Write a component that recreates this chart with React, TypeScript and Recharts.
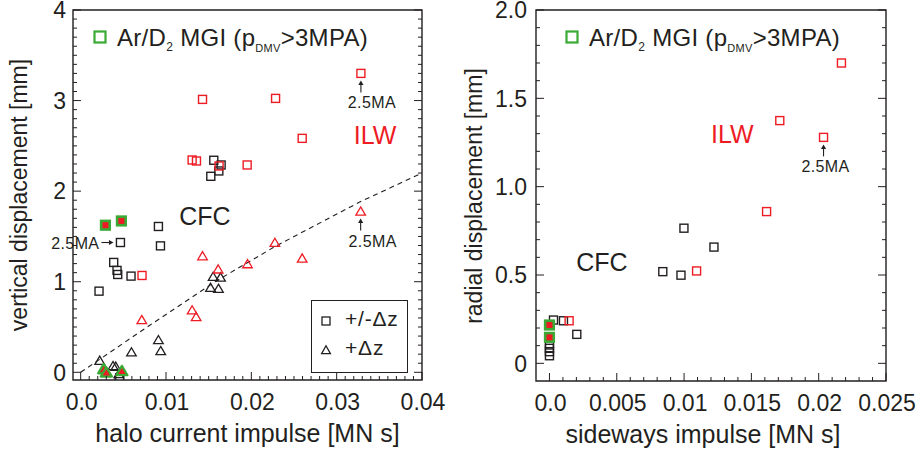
import React from 'react'
import { ScatterChart, Scatter, XAxis, YAxis, ReferenceDot, ReferenceArea, Legend } from 'recharts'

const INK = '#231f20'
const RED = '#ed1c24'
const GREEN = '#3aaa35'
const FONT = '"Liberation Sans", Arial, Helvetica, sans-serif'

// ---------- left panel: vertical displacement vs halo current impulse ----------
const hciTicks = [0, 0.01, 0.02, 0.03, 0.04]
const hciTickLabels = ['0.0', '0.01', '0.02', '0.03', '0.04']
const vdTicks = [0, 1, 2, 3, 4]
const vdTickLabels = ['0', '1', '2', '3', '4']

// +/-dz shots, carbon wall
const cfcSquaresL = [
  { x: 0.0156, y: 2.341 }, { x: 0.01646, y: 2.289 }, { x: 0.01619, y: 2.223 }, { x: 0.01525, y: 2.164 },
  { x: 0.00466, y: 1.433 }, { x: 0.00911, y: 1.61 }, { x: 0.00935, y: 1.396 }, { x: 0.00387, y: 1.213 },
  { x: 0.00426, y: 1.125 }, { x: 0.00434, y: 1.08 }, { x: 0.0059, y: 1.062 }, { x: 0.00215, y: 0.896 },
  { x: 0.00458, y: -0.06 },
]
// +/-dz shots, ITER-like wall
const ilwSquaresL = [
  { x: 0.01428, y: 3.013 }, { x: 0.02284, y: 3.024 }, { x: 0.03284, y: 3.3 }, { x: 0.02596, y: 2.583 },
  { x: 0.01306, y: 2.344 }, { x: 0.01357, y: 2.333 }, { x: 0.01951, y: 2.289 }, { x: 0.01622, y: 2.278 },
  { x: 0.00719, y: 1.069 },
]
const cfcTrianglesL = [
  { x: 0.01552, y: 1.054 }, { x: 0.01639, y: 1.047 }, { x: 0.01521, y: 0.933 }, { x: 0.01615, y: 0.922 },
  { x: 0.00911, y: 0.356 }, { x: 0.00938, y: 0.235 }, { x: 0.00595, y: 0.22 }, { x: 0.00223, y: 0.128 },
  { x: 0.00379, y: 0.069 }, { x: 0.00411, y: 0.062 }, { x: 0.00446, y: -0.02 },
]
const ilwTrianglesL = [
  { x: 0.03281, y: 1.775 }, { x: 0.01428, y: 1.282 }, { x: 0.02276, y: 1.429 }, { x: 0.01955, y: 1.194 },
  { x: 0.02596, y: 1.257 }, { x: 0.01611, y: 1.136 }, { x: 0.01306, y: 0.684 }, { x: 0.01353, y: 0.61 },
  { x: 0.00716, y: 0.577 },
]
// Ar/D2 massive gas injection
const mgiSquaresL = [{ x: 0.0029, y: 1.624 }, { x: 0.00477, y: 1.671 }]
const mgiTrianglesL = [{ x: 0.0027, y: 0.033 }, { x: 0.00301, y: -0.004 }, { x: 0.00483, y: 0.012 }]
// dashed trend
const trendL = [
  { x: 0, y: 0 }, { x: 0.0081, y: 0.52 }, { x: 0.0161, y: 1.02 },
  { x: 0.0228, y: 1.39 }, { x: 0.0327, y: 1.88 }, { x: 0.04, y: 2.2 },
]
const annotL = [
  { x: 0.03284, y: 3.3 },
  { x: 0.03281, y: 1.775 },
  { x: 0.00466, y: 1.433 },
]

// ---------- right panel: radial displacement vs sideways impulse ----------
const swTicks = [0, 0.005, 0.01, 0.015, 0.02, 0.025]
const swTickLabels = ['0.0', '0.005', '0.01', '0.015', '0.02', '0.025']
const rdTicks = [0, 0.5, 1, 1.5, 2]
const rdTickLabels = ['0', '0.5', '1.0', '1.5', '2.0']

const cfcSquaresR = [
  { x: 0.00999, y: 0.765 }, { x: 0.01222, y: 0.658 }, { x: 0.00842, y: 0.519 }, { x: 0.00977, y: 0.499 },
  { x: 0.0003, y: 0.245 }, { x: 0.00104, y: 0.241 }, { x: 0.00203, y: 0.164 },
  { x: 0, y: 0.104 }, { x: 0, y: 0.085 }, { x: 0, y: 0.066 }, { x: 0, y: 0.043 },
]
const ilwSquaresR = [
  { x: 0.02169, y: 1.7 }, { x: 0.01711, y: 1.374 }, { x: 0.02036, y: 1.279 },
  { x: 0.01613, y: 0.859 }, { x: 0.01093, y: 0.523 }, { x: 0.00146, y: 0.241 },
]
const mgiSquaresR = [{ x: 0, y: 0.217 }, { x: 0, y: 0.147 }]
const annotR = [{ x: 0.02036, y: 1.279 }]

const shotLegend = [
  { label: '+/-\u0394z', kind: 'square' },
  { label: '+\u0394z', kind: 'triangle' },
]

// minor + major tick positions
const hciAll = Array.from({ length: 41 }, (_, i) => i / 1000)
const vdAll = Array.from({ length: 41 }, (_, i) => i / 10)
const swAll = Array.from({ length: 26 }, (_, i) => i / 1000)
const rdAll = Array.from({ length: 21 }, (_, i) => i / 10)

const majorIndex = (v: number, majors: number[]) => majors.findIndex(m => Math.abs(m - v) < 1e-9)

// inward ticks, labelled where major
const bottomTick = (majors: number[], labels: string[]) => (p: any) => {
  const k = majorIndex(p.payload.value, majors)
  return (
    <g>
      <line x1={p.x} y1={p.y} x2={p.x} y2={p.y - (k >= 0 ? 8 : 4)} stroke={INK} strokeWidth={1} />
      {k >= 0 && <text x={p.x + 1} y={p.y + 29.5} textAnchor="middle" fontSize={23} fill={INK}>{labels[k]}</text>}
    </g>
  )
}
const leftTick = (majors: number[], labels: string[], gap: number) => (p: any) => {
  const k = majorIndex(p.payload.value, majors)
  return (
    <g>
      <line x1={p.x} y1={p.y} x2={p.x + (k >= 0 ? 8 : 4)} y2={p.y} stroke={INK} strokeWidth={1} />
      {k >= 0 && <text x={p.x - gap} y={p.y + 8.2} textAnchor="end" fontSize={23} fill={INK}>{labels[k]}</text>}
    </g>
  )
}
const topTick = (majors: number[]) => (p: any) => (
  <line x1={p.x} y1={p.y} x2={p.x} y2={p.y + (majorIndex(p.payload.value, majors) >= 0 ? 8 : 4)} stroke={INK} strokeWidth={1} />
)
const rightTick = (majors: number[]) => (p: any) => (
  <line x1={p.x} y1={p.y} x2={p.x - (majorIndex(p.payload.value, majors) >= 0 ? 8 : 4)} y2={p.y} stroke={INK} strokeWidth={1} />
)

// marker shapes
const openSquare = (color: string) => (p: any) => (
  <rect x={p.cx - 4} y={p.cy - 4} width={8} height={8} fill="none" stroke={color} strokeWidth={1.4} />
)
const openTriangle = (color: string) => (p: any) => (
  <path d={`M${p.cx},${p.cy - 4.6} L${p.cx + 4.8},${p.cy + 3.6} L${p.cx - 4.8},${p.cy + 3.6} Z`}
    fill="none" stroke={color} strokeWidth={1.3} />
)
const mgiSquare = (p: any) => (
  <rect x={p.cx - 4.3} y={p.cy - 4.3} width={8.6} height={8.6} fill={RED} stroke={GREEN} strokeWidth={2.6} />
)
const mgiTriangle = (p: any) => (
  <path d={`M${p.cx},${p.cy - 5.4} L${p.cx + 5.6},${p.cy + 4} L${p.cx - 5.6},${p.cy + 4} Z`}
    fill={RED} stroke={GREEN} strokeWidth={2.2} strokeLinejoin="round" />
)
const noMarker = () => <g />

// "2.5MA" arrows
const arrowUp = (textDx: number) => (p: any) => (
  <g>
    <line x1={p.cx} y1={p.cy + 19} x2={p.cx} y2={p.cy + 10} stroke={INK} strokeWidth={1.1} />
    <path d={`M${p.cx},${p.cy + 7} L${p.cx + 2.6},${p.cy + 11.5} L${p.cx - 2.6},${p.cy + 11.5} Z`} fill={INK} />
    <text x={p.cx + textDx} y={p.cy + 35} textAnchor="middle" fontSize={16} letterSpacing={0.4} fill={INK}>2.5MA</text>
  </g>
)
const arrowRight = (p: any) => (
  <g>
    <line x1={p.cx - 19} y1={p.cy} x2={p.cx - 10} y2={p.cy} stroke={INK} strokeWidth={1.1} />
    <path d={`M${p.cx - 7},${p.cy} L${p.cx - 11.5},${p.cy - 2.6} L${p.cx - 11.5},${p.cy + 2.6} Z`} fill={INK} />
    <text x={p.cx - 21} y={p.cy + 6} textAnchor="end" fontSize={16} letterSpacing={0.4} fill={INK}>2.5MA</text>
  </g>
)
const wallText = (text: string, color: string) => (p: any) => (
  <text x={p.cx} y={p.cy + 9} textAnchor="middle" fontSize={25} fill={color}>{text}</text>
)

const YTitle = ({ text, cx, cy }: { text: string; cx: number; cy: number }) => (
  <div style={{
    position: 'absolute', left: cx, top: cy, transform: 'translate(-50%, -50%) rotate(-90deg)',
    whiteSpace: 'nowrap', fontSize: 23, lineHeight: '23px', color: INK,
  }}>{text}</div>
)

const MgiLegend = ({ left }: { left: number }) => (
  <div style={{ position: 'absolute', left, top: 26, whiteSpace: 'nowrap', fontSize: 24, lineHeight: '24px', letterSpacing: 0.3, color: INK }}>
    <svg width={16} height={16} style={{ position: 'absolute', left: -2, top: 3 }}>
      <rect x={2.5} y={2.5} width={11} height={11} fill="none" stroke={GREEN} strokeWidth={2.2} />
    </svg>
    <span style={{ marginLeft: 23 }}>
      Ar/D<span style={{ fontSize: 12, verticalAlign: '-5px' }}>2</span>&nbsp;MGI (p
      <span style={{ fontSize: 11, verticalAlign: '-6px' }}>DMV</span>&gt;3MPA)
    </span>
  </div>
)

const LeftLegend = () => (
  <div style={{ position: 'absolute', left: 0, top: 0 }}>
    <YTitle text="vertical displacement [mm]" cx={19} cy={195} />
    <MgiLegend left={94} />
    <div style={{ position: 'absolute', left: 311, top: 300, width: 95, height: 71, border: `1.3px solid ${INK}`, color: INK }}>
      {shotLegend.map((item, i) => (
        <div key={item.label} style={{ position: 'absolute', left: 8, top: 7.4 + i * 28.5, height: 22, fontSize: 21, lineHeight: '22px', letterSpacing: 0.8, whiteSpace: 'nowrap' }}>
          <svg width={12} height={12} style={{ position: 'absolute', left: 0, top: 7 }}>
            {item.kind === 'square'
              ? <rect x={2} y={2} width={8} height={8} fill="none" stroke={INK} strokeWidth={1.3} />
              : <path d="M6,1.8 L10.4,9.6 L1.6,9.6 Z" fill="none" stroke={INK} strokeWidth={1.3} />}
          </svg>
          <span style={{ marginLeft: 25 }}>{item.label}</span>
        </div>
      ))}
    </div>
  </div>
)

const RightLegend = () => (
  <div style={{ position: 'absolute', left: 0, top: 0 }}>
    <YTitle text="radial displacement [mm]" cx={14} cy={195.5} />
    <MgiLegend left={106} />
  </div>
)

function LeftPanel() {
  const xd: [number, number] = [-0.0009, 0.04]
  const yd: [number, number] = [-0.085, 4]
  return (
    <ScatterChart width={460} height={453} margin={{ top: 9, right: 37, bottom: 3, left: 32 }}>
      <XAxis xAxisId="xmaj" dataKey="x" type="number" domain={xd} allowDataOverflow ticks={hciAll} interval={0}
        height={36} tick={bottomTick(hciTicks, hciTickLabels)} axisLine={false} tickLine={false} tickSize={0} tickMargin={0} />
      <XAxis xAxisId="xtitle" type="number" domain={xd} allowDataOverflow height={34} tick={false} axisLine={false} tickLine={false}
        label={{ value: 'halo current impulse [MN s]', position: 'center', fill: INK, fontSize: 25 }} />
      <XAxis xAxisId="xtop" orientation="top" type="number" domain={xd} allowDataOverflow ticks={hciAll} interval={0}
        height={1} tick={topTick(hciTicks)} axisLine={false} tickLine={false} tickSize={0} tickMargin={0} />

      <YAxis yAxisId="ymaj" dataKey="y" type="number" domain={yd} allowDataOverflow ticks={vdAll} interval={0}
        width={41} tick={leftTick(vdTicks, vdTickLabels, 7)} axisLine={false} tickLine={false} tickSize={0} tickMargin={0} />
      <YAxis yAxisId="yright" orientation="right" type="number" domain={yd} allowDataOverflow ticks={vdAll} interval={0}
        width={1} tick={rightTick(vdTicks)} axisLine={false} tickLine={false} tickSize={0} tickMargin={0} />

      <ReferenceArea xAxisId="xmaj" yAxisId="ymaj" x1={xd[0]} x2={xd[1]} y1={yd[0]} y2={yd[1]}
        fill="none" stroke={INK} strokeWidth={1.4} ifOverflow="visible" />

      <Scatter xAxisId="xmaj" yAxisId="ymaj" data={trendL} fill="none" shape={noMarker} isAnimationActive={false}
        line={{ stroke: INK, strokeWidth: 1.1, strokeDasharray: '5 4' }} />
      <Scatter xAxisId="xmaj" yAxisId="ymaj" data={cfcSquaresL} shape={openSquare(INK)} isAnimationActive={false} />
      <Scatter xAxisId="xmaj" yAxisId="ymaj" data={cfcTrianglesL} shape={openTriangle(INK)} isAnimationActive={false} />
      <Scatter xAxisId="xmaj" yAxisId="ymaj" data={ilwSquaresL} shape={openSquare(RED)} isAnimationActive={false} />
      <Scatter xAxisId="xmaj" yAxisId="ymaj" data={ilwTrianglesL} shape={openTriangle(RED)} isAnimationActive={false} />
      <Scatter xAxisId="xmaj" yAxisId="ymaj" data={mgiSquaresL} shape={mgiSquare} isAnimationActive={false} />
      <Scatter xAxisId="xmaj" yAxisId="ymaj" data={mgiTrianglesL} shape={mgiTriangle} isAnimationActive={false} />

      <ReferenceDot xAxisId="xmaj" yAxisId="ymaj" x={annotL[0].x} y={annotL[0].y} shape={arrowUp(11)} />
      <ReferenceDot xAxisId="xmaj" yAxisId="ymaj" x={annotL[1].x} y={annotL[1].y} shape={arrowUp(12)} />
      <ReferenceDot xAxisId="xmaj" yAxisId="ymaj" x={annotL[2].x} y={annotL[2].y} shape={arrowRight} />
      <ReferenceDot xAxisId="xmaj" yAxisId="ymaj" x={0.0345} y={2.62} shape={wallText('ILW', RED)} />
      <ReferenceDot xAxisId="xmaj" yAxisId="ymaj" x={0.01455} y={1.723} shape={wallText('CFC', INK)} />

      <Legend layout="vertical" align="center" verticalAlign="middle" content={() => <LeftLegend />}
        wrapperStyle={{ left: 0, top: 0, width: 0, height: 0 }} />
    </ScatterChart>
  )
}

function RightPanel() {
  const xd: [number, number] = [-0.001, 0.025]
  const yd: [number, number] = [-0.1, 2]
  return (
    <ScatterChart width={459} height={453} margin={{ top: 9, right: 32, bottom: 2, left: 26 }}>
      <XAxis xAxisId="xmaj" dataKey="x" type="number" domain={xd} allowDataOverflow ticks={swAll} interval={0}
        height={36} tick={bottomTick(swTicks, swTickLabels)} axisLine={false} tickLine={false} tickSize={0} tickMargin={0} />
      <XAxis xAxisId="xtitle" type="number" domain={xd} allowDataOverflow height={34} tick={false} axisLine={false} tickLine={false}
        label={{ value: 'sideways impulse [MN s]', position: 'center', fill: INK, fontSize: 25, dx: -8 }} />
      <XAxis xAxisId="xtop" orientation="top" type="number" domain={xd} allowDataOverflow ticks={swAll} interval={0}
        height={1} tick={topTick(swTicks)} axisLine={false} tickLine={false} tickSize={0} tickMargin={0} />

      <YAxis yAxisId="ymaj" dataKey="y" type="number" domain={yd} allowDataOverflow ticks={rdAll} interval={0}
        width={50} tick={leftTick(rdTicks, rdTickLabels, 9)} axisLine={false} tickLine={false} tickSize={0} tickMargin={0} />
      <YAxis yAxisId="yright" orientation="right" type="number" domain={yd} allowDataOverflow ticks={rdAll} interval={0}
        width={1} tick={rightTick(rdTicks)} axisLine={false} tickLine={false} tickSize={0} tickMargin={0} />

      <ReferenceArea xAxisId="xmaj" yAxisId="ymaj" x1={xd[0]} x2={xd[1]} y1={yd[0]} y2={yd[1]}
        fill="none" stroke={INK} strokeWidth={1.4} ifOverflow="visible" />

      <Scatter xAxisId="xmaj" yAxisId="ymaj" data={cfcSquaresR} shape={openSquare(INK)} isAnimationActive={false} />
      <Scatter xAxisId="xmaj" yAxisId="ymaj" data={ilwSquaresR} shape={openSquare(RED)} isAnimationActive={false} />
      <Scatter xAxisId="xmaj" yAxisId="ymaj" data={mgiSquaresR} shape={mgiSquare} isAnimationActive={false} />

      <ReferenceDot xAxisId="xmaj" yAxisId="ymaj" x={annotR[0].x} y={annotR[0].y} shape={arrowUp(2)} />
      <ReferenceDot xAxisId="xmaj" yAxisId="ymaj" x={0.01359} y={1.3} shape={wallText('ILW', RED)} />
      <ReferenceDot xAxisId="xmaj" yAxisId="ymaj" x={0.00389} y={0.571} shape={wallText('CFC', INK)} />

      <Legend layout="vertical" align="center" verticalAlign="middle" content={() => <RightLegend />}
        wrapperStyle={{ left: 0, top: 0, width: 0, height: 0 }} />
    </ScatterChart>
  )
}

export default function App() {
  return (
    <div style={{ position: 'absolute', left: 0, top: 0, width: 919, height: 453, fontFamily: FONT }}>
      <div style={{ position: 'absolute', left: 0, top: 0, width: 460, height: 453 }}>
        <LeftPanel />
      </div>
      <div style={{ position: 'absolute', left: 460, top: 0, width: 459, height: 453 }}>
        <RightPanel />
      </div>
    </div>
  )
}
